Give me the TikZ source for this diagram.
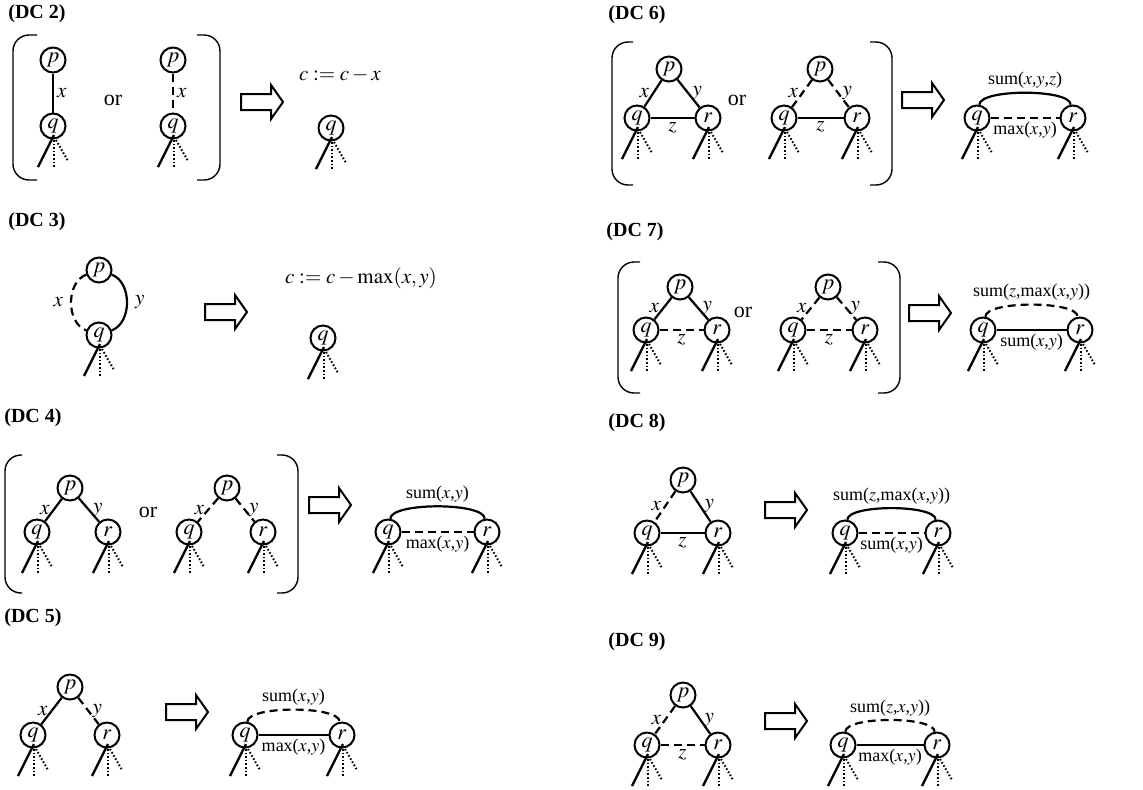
\documentclass[tikz,border=0pt]{standalone}
\usepackage{mathptmx}
\usepackage{fontspec}
\setmainfont{Liberation Serif}

\tikzset{
  vtx/.style={circle,draw,line width=1pt,inner sep=0pt,minimum size=12.5pt,font=\fontsize{11}{13}\selectfont},
  full/.style={line width=1.1pt},
  fine/.style={line width=.8pt},
  broken/.style={line width=1.1pt,dash pattern=on 4pt off 2.5pt},
  arclbl/.style={font=\fontsize{9}{11}\selectfont},
  fatarrow/.pic={\draw[line width=1pt] (-21,-8) -- (9,-8) -- (9,-17) -- (21,0) -- (9,17) -- (9,8) -- (-21,8) -- cycle;}
}

\newcommand{\subtree}[1]{%
  \draw[line width=1.2pt] ([shift={(1,9)}]#1.center) -- ([shift={(-15,41)}]#1.center);
  \draw[line width=1pt,dash pattern=on .8pt off 1pt] ([shift={(1,14)}]#1.center) -- ([shift={(1,42)}]#1.center);
  \draw[line width=1pt,dash pattern=on .8pt off 1pt] ([shift={(3,14)}]#1.center) -- ([shift={(15,35)}]#1.center);
}
\newcommand{\sidebracket}[4]{\draw[line width=.7pt,rounded corners=8pt] (#2,#3) -- (#1,#3) -- (#1,#4) -- (#2,#4);}

\begin{document}
\begin{tikzpicture}[x=.5pt,y=-.5pt,font=\fontsize{10.5}{12}\selectfont]
        \useasboundingbox (0,0) rectangle (1143,789);

        \begin{scope}[every node/.style={font=\fontsize{10}{12}\selectfont\bfseries}]
          \node (h2) at (37,14)   {(DC 2)};
          \node (h3) at (37,222)  {(DC 3)};
          \node (h4) at (33,418)  {(DC 4)};
          \node (h5) at (33,618)  {(DC 5)};
          \node (h6) at (637,15)  {(DC 6)};
          \node (h7) at (635,232) {(DC 7)};
          \node (h8) at (637,423) {(DC 8)};
          \node (h9) at (637,642) {(DC 9)};
        \end{scope}

        \begin{scope}[every node/.style={font=\fontsize{11}{13}\selectfont}]
          \node (or2) at (113,100) {or};
          \node (or4) at (148,512) {or};
          \node (or6) at (737,100) {or};
          \node (or7) at (743,312) {or};
        \end{scope}

        \node (c2) at (340,75)  {$c := c - x$};
        \node (c3) at (361,278) {$c := c - \max(x,y)$};

        \begin{scope}[every node/.style={vtx}]
          \node (p2)  at (53,60)   {$p$};
          \node (q2)  at (53,126)  {$q$};
          \node (p2b) at (173,60)  {$p$};
          \node (q2b) at (173,126) {$q$};
          \node (q2c) at (331,128) {$q$};
          \node (p3)  at (99,270)  {$p$};
          \node (q3)  at (99,335)  {$q$};
          \node (q3c) at (323,338) {$q$};
          \node (p4)  at (70,488)  {$p$};
          \node (q4)  at (37,532)  {$q$};
          \node (r4)  at (108,532) {$r$};
          \node (p4b) at (227,488) {$p$};
          \node (q4b) at (189,532) {$q$};
          \node (r4b) at (263,532) {$r$};
          \node (q4c) at (388,532) {$q$};
          \node (r4c) at (487,532) {$r$};
          \node (p5)  at (70,687)  {$p$};
          \node (q5)  at (33,735)  {$q$};
          \node (r5)  at (107,735) {$r$};
          \node (q5c) at (245,735) {$q$};
          \node (r5c) at (342,735) {$r$};
          \node (p6)  at (669,69)  {$p$};
          \node (q6)  at (637,118) {$q$};
          \node (r6)  at (708,118) {$r$};
          \node (p6b) at (820,69)  {$p$};
          \node (q6b) at (784,118) {$q$};
          \node (r6b) at (857,118) {$r$};
          \node (q6c) at (977,118) {$q$};
          \node (r6c) at (1073,118) {$r$};
          \node (p7)  at (680,287) {$p$};
          \node (q7)  at (646,330) {$q$};
          \node (r7)  at (717,330) {$r$};
          \node (p7b) at (828,287) {$p$};
          \node (q7b) at (793,330) {$q$};
          \node (r7b) at (865,330) {$r$};
          \node (q7c) at (983,330) {$q$};
          \node (r7c) at (1080,330) {$r$};
          \node (p8)  at (683,480) {$p$};
          \node (q8)  at (647,533) {$q$};
          \node (r8)  at (718,533) {$r$};
          \node (q8c) at (845,533) {$q$};
          \node (r8c) at (938,533) {$r$};
          \node (p9)  at (683,695) {$p$};
          \node (q9)  at (647,745) {$q$};
          \node (r9)  at (718,745) {$r$};
          \node (q9c) at (843,745) {$q$};
          \node (r9c) at (937,745) {$r$};
        \end{scope}

        \foreach \n in {q2,q2b,q2c,q3,q3c,q4,r4,q4b,r4b,q4c,r4c,q5,r5,q5c,r5c,
                        q6,r6,q6b,r6b,q6c,r6c,q7,r7,q7b,r7b,q7c,r7c,q8,r8,q8c,r8c,q9,r9,q9c,r9c}
          {\subtree{\n}}

        \sidebracket{13}{37}{35}{180}
        \sidebracket{220}{197}{35}{180}
        \sidebracket{5}{22}{455}{593}
        \sidebracket{298}{277}{455}{593}
        \sidebracket{612}{633}{42}{185}
        \sidebracket{892}{870}{42}{185}
        \sidebracket{618}{640}{262}{393}
        \sidebracket{900}{878}{262}{393}

        \pic at (262,102) {fatarrow};
        \pic at (226,312) {fatarrow};
        \pic at (330,505) {fatarrow};
        \pic at (187,712) {fatarrow};
        \pic at (923,100) {fatarrow};
        \pic at (930,313) {fatarrow};
        \pic at (786,510) {fatarrow};
        \pic at (786,721) {fatarrow};

        \begin{scope}[every node/.style={inner sep=1.5pt}]
          \path (p2)  edge[full]   node[right] {$x$} (q2);
          \path (p2b) edge[broken] node[right] {$x$} (q2b);

          \path (p3) edge[broken,bend right=70] node[left=2pt]  {$x$} (q3);
          \path (p3) edge[full,bend left=70]    node[right=2pt] {$y$} (q3);

          \path (p4)  edge[full]   node[left]  {$x$} (q4);
          \path (p4)  edge[full]   node[right] {$y$} (r4);
          \path (p4b) edge[broken] node[left]  {$x$} (q4b);
          \path (p4b) edge[broken] node[right] {$y$} (r4b);
          \path (q4c.80) edge[full,out=90,in=90,looseness=.45] node[above,arclbl] {sum($x$,$y$)} (r4c.100);
          \path (q4c) edge[broken] node[below,arclbl] {max($x$,$y$)} (r4c);

          \path (p5)  edge[full]   node[left]  {$x$} (q5);
          \path (p5)  edge[broken] node[right] {$y$} (r5);
          \path (q5c.80) edge[broken,out=90,in=90,looseness=.45] node[above,arclbl] {sum($x$,$y$)} (r5c.100);
          \path (q5c) edge[fine] node[below,arclbl] {max($x$,$y$)} (r5c);

          \path (p6)  edge[full]   node[left]  {$x$} (q6);
          \path (p6)  edge[full]   node[right] {$y$} (r6);
          \path (q6)  edge[full]   node[below] {$z$} (r6);
          \path (p6b) edge[broken] node[left]  {$x$} (q6b);
          \path (p6b) edge[broken] node[right] {$y$} (r6b);
          \path (q6b) edge[fine]   node[below] {$z$} (r6b);
          \path (q6c.80) edge[full,out=90,in=90,looseness=.45] node[above,arclbl] {sum($x$,$y$,$z$)} (r6c.100);
          \path (q6c) edge[broken] node[below,arclbl] {max($x$,$y$)} (r6c);

          \path (p7)  edge[full]   node[left]  {$x$} (q7);
          \path (p7)  edge[full]   node[right] {$y$} (r7);
          \path (q7)  edge[broken] node[below] {$z$} (r7);
          \path (p7b) edge[broken] node[left]  {$x$} (q7b);
          \path (p7b) edge[broken] node[right] {$y$} (r7b);
          \path (q7b) edge[broken] node[below] {$z$} (r7b);
          \path (q7c.80) edge[broken,out=90,in=90,looseness=.45] node[above,arclbl] {sum($z$,max($x$,$y$))} (r7c.100);
          \path (q7c) edge[fine] node[below,arclbl] {sum($x$,$y$)} (r7c);

          \path (p8)  edge[broken] node[left]  {$x$} (q8);
          \path (p8)  edge[full]   node[right] {$y$} (r8);
          \path (q8)  edge[full]   node[below] {$z$} (r8);
          \path (q8c.80) edge[full,out=90,in=90,looseness=.45] node[above,arclbl] {sum($z$,max($x$,$y$))} (r8c.100);
          \path (q8c) edge[broken] node[below,arclbl] {sum($x$,$y$)} (r8c);

          \path (p9)  edge[broken] node[left]  {$x$} (q9);
          \path (p9)  edge[full]   node[right] {$y$} (r9);
          \path (q9)  edge[broken] node[below] {$z$} (r9);
          \path (q9c.80) edge[broken,out=90,in=90,looseness=.45] node[above,arclbl] {sum($z$,$x$,$y$))} (r9c.100);
          \path (q9c) edge[fine] node[below,arclbl] {max($x$,$y$)} (r9c);
        \end{scope}

      \end{tikzpicture}
\end{document}
